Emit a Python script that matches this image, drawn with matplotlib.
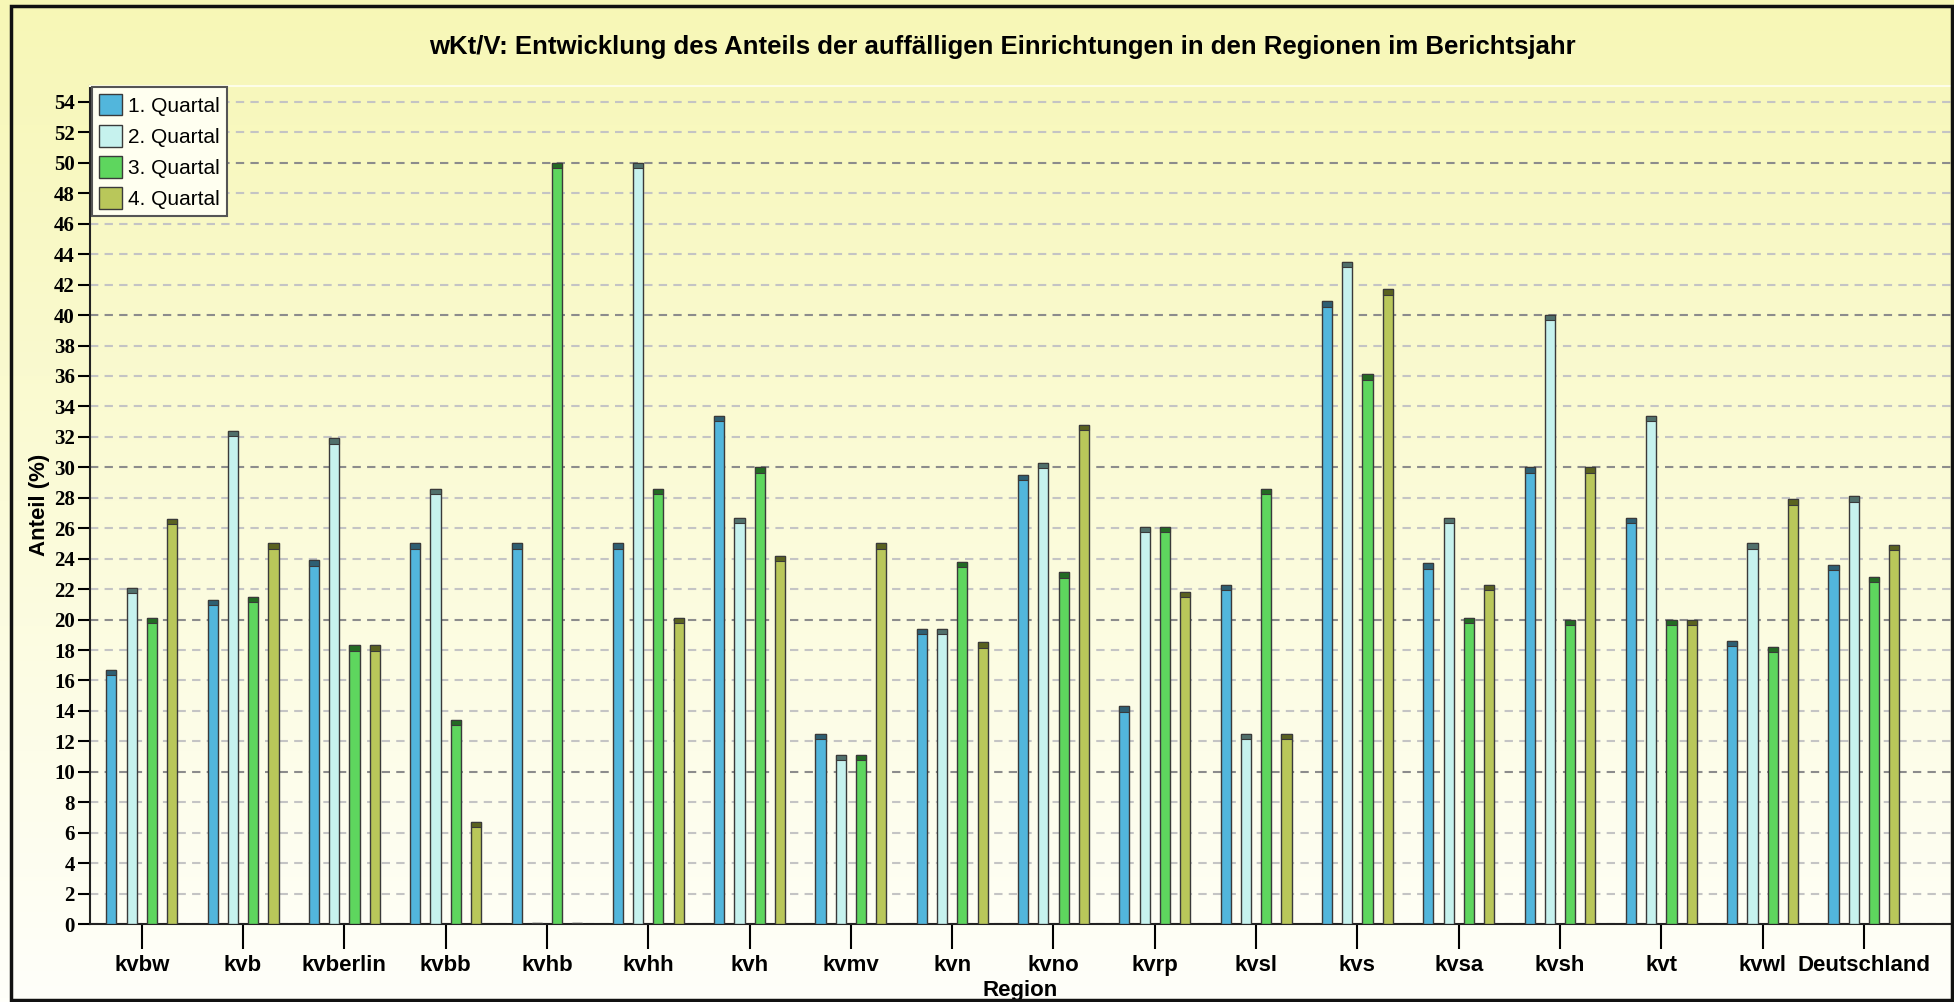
import numpy as np
import matplotlib
matplotlib.use('Agg')
import matplotlib.pyplot as plt
from matplotlib.patches import Rectangle

regions = ['kvbw', 'kvb', 'kvberlin', 'kvbb', 'kvhb', 'kvhh', 'kvh', 'kvmv', 'kvn',
           'kvno', 'kvrp', 'kvsl', 'kvs', 'kvsa', 'kvsh', 'kvt', 'kvwl', 'Deutschland']

q1 = [16.7, 21.3, 23.9, 25.0, 25.0, 25.0, 33.4, 12.5, 19.4, 29.5, 14.3, 22.3, 40.9, 23.7, 30.0, 26.7, 18.6, 23.6]
q2 = [22.1, 32.4, 31.9, 28.6, 0.1, 50.0, 26.7, 11.1, 19.4, 30.3, 26.1, 12.5, 43.5, 26.7, 40.0, 33.4, 25.0, 28.1]
q3 = [20.1, 21.5, 18.3, 13.4, 50.0, 28.6, 30.0, 11.1, 23.8, 23.1, 26.1, 28.6, 36.1, 20.1, 20.0, 20.0, 18.2, 22.8]
q4 = [26.6, 25.0, 18.3, 6.7, 0.1, 20.1, 24.2, 25.0, 18.5, 32.8, 21.8, 12.5, 41.7, 22.3, 30.0, 20.0, 27.9, 24.9]

series = ['1. Quartal', '2. Quartal', '3. Quartal', '4. Quartal']
colors = ['#52B6DC', '#C6F2EE', '#5ED65E', '#B9C75A']
caps = ['#2E5F73', '#51706C', '#236B23', '#5A6220']
yticks = list(range(0, 55, 2))

fig = plt.figure(figsize=(19.54, 10.02), dpi=100)

# background gradient, yellow at the top fading to white
bg = fig.add_axes([0, 0, 1, 1], zorder=-10)
grad = np.linspace(0, 1, 256).reshape(-1, 1)
top = np.array([247, 247, 182]) / 255
bot = np.array([255, 255, 250]) / 255
img = top[None, None, :] * (1 - grad[:, :, None]) + bot[None, None, :] * grad[:, :, None]
bg.imshow(img, aspect='auto', extent=[0, 1, 0, 1])
bg.set_axis_off()

ax = fig.add_axes([0.0461, 0.0778, 0.9524, 0.8364])
ax.patch.set_alpha(0)

x = np.arange(len(regions))
w = 0.1
offs = [-0.3, -0.1, 0.1, 0.3]
for i, vals in enumerate([q1, q2, q3, q4]):
    vals = np.array(vals)
    ax.bar(x + offs[i], vals, width=w, color=colors[i], edgecolor='#3a3a3a',
           linewidth=1.0, label=series[i], zorder=3)
    # darker cap on the cylinder top
    ax.bar(x + offs[i], np.minimum(vals, 0.35), bottom=vals - np.minimum(vals, 0.35), width=w,
           color=caps[i], edgecolor='#3a3a3a', linewidth=0.8, zorder=4)

ax.set_xlim(-0.51, 17.86)
ax.set_ylim(0, 55.05)
ax.set_yticks(yticks)
ax.set_yticklabels([str(t) for t in yticks], fontfamily='Liberation Serif',
                   fontweight='bold', fontsize=15)
ax.set_xticks(x)
ax.set_xticklabels(regions, fontfamily='Liberation Sans', fontweight='bold', fontsize=16)
ax.tick_params(axis='y', length=9, width=1.5, pad=2)
ax.tick_params(axis='x', length=18, width=1.5, pad=4)

for t in yticks:
    if t % 10 == 0:
        ax.axhline(t, color='#8c8c8c', lw=1.5, ls=(0, (4, 3)), zorder=1)
    else:
        ax.axhline(t, color='#c4c4c4', lw=1.5, ls=(0, (4, 3)), zorder=1)

for s in ['left', 'bottom']:
    ax.spines[s].set_linewidth(1.5)
    ax.spines[s].set_color('#222222')
ax.spines['top'].set_color('#fdfde8')
ax.spines['top'].set_linewidth(1.5)
ax.spines['right'].set_visible(False)

ax.set_ylabel('Anteil (%)', fontfamily='Liberation Sans', fontweight='bold', fontsize=16, labelpad=3)
ax.set_xlabel('Region', fontfamily='Liberation Sans', fontweight='bold', fontsize=16, labelpad=3)

fig.text(0.513, 0.953, 'wKt/V: Entwicklung des Anteils der auffälligen Einrichtungen in den Regionen im Berichtsjahr',
         ha='center', va='center', fontfamily='Liberation Sans', fontweight='bold', fontsize=18.5)

leg = ax.legend(loc='upper left', bbox_to_anchor=(0.001, 0.999), prop={'family': 'Liberation Sans', 'size': 15},
                frameon=True, fancybox=False, handlelength=1.1, handleheight=1.2, handletextpad=0.3,
                labelspacing=0.45, borderpad=0.35, borderaxespad=0)
leg.get_frame().set_facecolor('#FFFFF0')
leg.get_frame().set_edgecolor('#555555')
leg.get_frame().set_linewidth(1.5)
leg.get_frame().set_alpha(1)

# outer frame
fig.patches.append(Rectangle((0.0055, 0.002), 0.9935, 0.992, transform=fig.transFigure,
                             fill=False, edgecolor='#111111', linewidth=2.5))

fig.savefig('out.png', dpi=100)
